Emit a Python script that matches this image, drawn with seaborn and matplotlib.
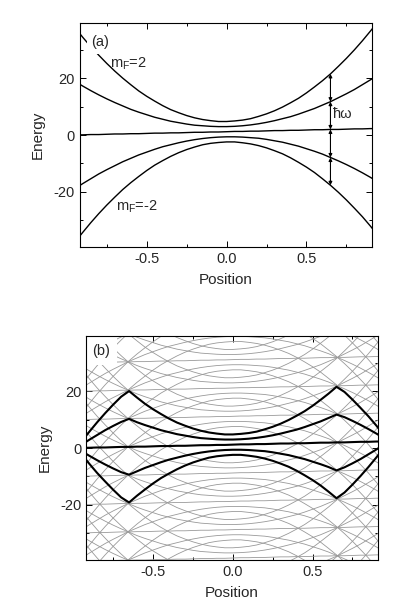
import numpy as np
import pandas as pd
import seaborn as sns
import matplotlib
matplotlib.use("Agg")
import matplotlib.pyplot as plt
from matplotlib.ticker import MultipleLocator

position = np.round(np.arange(-0.95, 0.951, 0.05), 2)

# bare Zeeman levels, panel (a)
level_p2 = [38.0, 34.5, 31.2, 28.2, 25.3, 22.6, 20.1, 17.8, 15.6, 13.7, 12.0, 10.4, 9.0, 7.9,
            6.9, 6.1, 5.5, 5.1, 4.8, 4.8, 5.0, 5.3, 5.8, 6.6, 7.5, 8.6, 9.9, 11.4, 13.0, 14.9,
            17.0, 19.2, 21.6, 24.3, 27.1, 30.1, 33.3, 36.7, 40.2]
level_p1 = [19.0, 17.3, 15.7, 14.2, 12.8, 11.5, 10.3, 9.1, 8.1, 7.2, 6.3, 5.6, 4.9, 4.4,
            3.9, 3.5, 3.3, 3.1, 3.0, 3.0, 3.1, 3.3, 3.6, 4.0, 4.5, 5.1, 5.8, 6.5, 7.4, 8.4,
            9.4, 10.6, 11.8, 13.2, 14.6, 16.1, 17.8, 19.5, 21.3]
level_0 = [0.1, 0.1, 0.2, 0.2, 0.3, 0.4, 0.4, 0.5, 0.5, 0.6, 0.7, 0.7, 0.8, 0.8, 0.9, 1.0,
           1.0, 1.1, 1.1, 1.2, 1.3, 1.3, 1.4, 1.4, 1.5, 1.6, 1.6, 1.7, 1.7, 1.8, 1.9, 1.9,
           2.0, 2.0, 2.1, 2.2, 2.2, 2.3, 2.3]
level_m1 = [-18.9, -17.1, -15.4, -13.7, -12.2, -10.8, -9.4, -8.2, -7.0, -6.0, -5.0, -4.1,
            -3.4, -2.7, -2.1, -1.6, -1.2, -0.9, -0.7, -0.6, -0.6, -0.7, -0.9, -1.1, -1.5,
            -2.0, -2.5, -3.2, -3.9, -4.8, -5.7, -6.7, -7.9, -9.1, -10.4, -11.8, -13.3,
            -14.9, -16.6]
level_m2 = [-37.8, -34.3, -30.9, -27.7, -24.7, -21.9, -19.2, -16.8, -14.6, -12.5, -10.6,
            -9.0, -7.5, -6.2, -5.1, -4.2, -3.4, -2.9, -2.6, -2.4, -2.4, -2.7, -3.1, -3.7,
            -4.5, -5.5, -6.6, -8.0, -9.6, -11.3, -13.2, -15.4, -17.7, -20.2, -22.9, -25.8,
            -28.8, -32.1, -35.6]
levels = [level_p2, level_p1, level_0, level_m1, level_m2]

# dressed (adiabatic) potentials, thick lines of panel (b)
dressed_p2 = [2.2, 5.7, 9.1, 12.3, 15.3, 18.1, 20.1, 17.8, 15.6, 13.7, 12.0, 10.4, 9.0, 7.9,
              6.9, 6.1, 5.5, 5.1, 4.8, 4.8, 5.0, 5.3, 5.8, 6.6, 7.5, 8.6, 9.9, 11.4, 13.0,
              14.9, 17.0, 19.2, 21.6, 19.8, 17.1, 14.2, 11.2, 7.9, 4.4]
dressed_p1 = [1.1, 2.9, 4.6, 6.3, 7.8, 9.2, 10.3, 9.1, 8.1, 7.2, 6.3, 5.6, 4.9, 4.4, 3.9,
              3.5, 3.3, 3.1, 3.0, 3.0, 3.1, 3.3, 3.6, 4.0, 4.5, 5.1, 5.8, 6.5, 7.4, 8.4, 9.4,
              10.6, 11.8, 10.9, 9.6, 8.2, 6.7, 5.1, 3.4]
dressed_m1 = [-1.0, -2.7, -4.3, -5.8, -7.2, -8.5, -9.4, -8.2, -7.0, -6.0, -5.0, -4.1, -3.4,
              -2.7, -2.1, -1.6, -1.2, -0.9, -0.7, -0.6, -0.6, -0.7, -0.9, -1.1, -1.5, -2.0,
              -2.5, -3.2, -3.9, -4.8, -5.7, -6.7, -7.9, -6.8, -5.4, -3.9, -2.2, -0.5, 1.3]
dressed_m2 = [-2.0, -5.5, -8.8, -11.8, -14.7, -17.4, -19.2, -16.8, -14.6, -12.5, -10.6, -9.0,
              -7.5, -6.2, -5.1, -4.2, -3.4, -2.9, -2.6, -2.4, -2.4, -2.7, -3.1, -3.7, -4.5,
              -5.5, -6.6, -8.0, -9.6, -11.3, -13.2, -15.4, -17.7, -15.7, -12.9, -9.9, -6.7,
              -3.3, 0.2]
dressed = [dressed_p2, dressed_p1, level_0, dressed_m1, dressed_m2]

photon_energy = 10.0          # hbar omega, spacing of the replicas
photon_numbers = range(-8, 9)
arrow_pos = 0.65

def long_frame(curves, shifts=(0,)):
    rows = []
    k = 0
    for curve in curves:
        for n in shifts:
            for p, e in zip(position, curve):
                rows.append((k, p, e + n * photon_energy))
            k += 1
    return pd.DataFrame(rows, columns=["curve", "Position", "Energy"])

def style_axes(ax):
    ax.set_xlim(-0.92, 0.91)
    ax.set_ylim(-39.5, 39.5)
    ax.xaxis.set_major_locator(MultipleLocator(0.5))
    ax.xaxis.set_minor_locator(MultipleLocator(0.25))
    ax.yaxis.set_major_locator(MultipleLocator(20))
    ax.yaxis.set_minor_locator(MultipleLocator(10))
    ax.tick_params(which="both", direction="in", top=True, right=True,
                   labelsize=10.5, color="black", width=0.7)
    ax.tick_params(which="major", length=4)
    ax.tick_params(which="minor", length=2.5)
    ax.set_xlabel("Position", fontsize=11, labelpad=5)
    ax.set_ylabel("Energy", fontsize=11, labelpad=6)
    for sp in ax.spines.values():
        sp.set_linewidth(0.8)
        sp.set_color("black")
        sp.set_zorder(3)

sns.set_theme(style="ticks")
plt.rcParams["font.family"] = ["Liberation Sans", "DejaVu Sans"]
plt.rcParams["mathtext.default"] = "regular"
plt.rcParams["axes.unicode_minus"] = False

fig = plt.figure(figsize=(4.0, 6.1), dpi=100)
ax_a = fig.add_axes([0.199, 0.595, 0.731, 0.367])
ax_b = fig.add_axes([0.215, 0.082, 0.730, 0.367])

# panel (a)
sns.lineplot(data=long_frame(levels), x="Position", y="Energy", units="curve",
             estimator=None, sort=False, color="black", linewidth=1.0, ax=ax_a)
style_axes(ax_a)
i = list(position).index(arrow_pos)
at_arrow = [lv[i] for lv in levels]
for top, bottom in zip(at_arrow[:-1], at_arrow[1:]):
    ax_a.annotate("", xy=(arrow_pos, bottom), xytext=(arrow_pos, top),
                  arrowprops=dict(arrowstyle="<|-|>", lw=0.8, color="black",
                                  shrinkA=0, shrinkB=0, mutation_scale=5))
ax_a.text(0.668, 7.4, "ħω", fontsize=10.5, va="center", ha="left")
ax_a.text(-0.73, 25.3, "m$_F$=2", fontsize=10.5, va="center", ha="left")
ax_a.text(-0.69, -25.3, "m$_F$=-2", fontsize=10.5, va="center", ha="left")
ax_a.text(-0.79, 32.8, "(a)", fontsize=10.5, va="center", ha="center", zorder=2.5,
          bbox=dict(facecolor="white", edgecolor="none", pad=3.5))

# panel (b)
sns.lineplot(data=long_frame(levels, photon_numbers), x="Position", y="Energy",
             units="curve", estimator=None, sort=False, color="0.6", linewidth=0.6,
             ax=ax_b)
sns.lineplot(data=long_frame(dressed), x="Position", y="Energy", units="curve",
             estimator=None, sort=False, color="black", linewidth=1.5, ax=ax_b)
style_axes(ax_b)
ax_b.text(-0.825, 34.3, "(b)", fontsize=10.5, va="center", ha="center", zorder=2.5,
          bbox=dict(facecolor="white", edgecolor="none", pad=5))

fig.savefig("out.png", dpi=100, facecolor="white")
